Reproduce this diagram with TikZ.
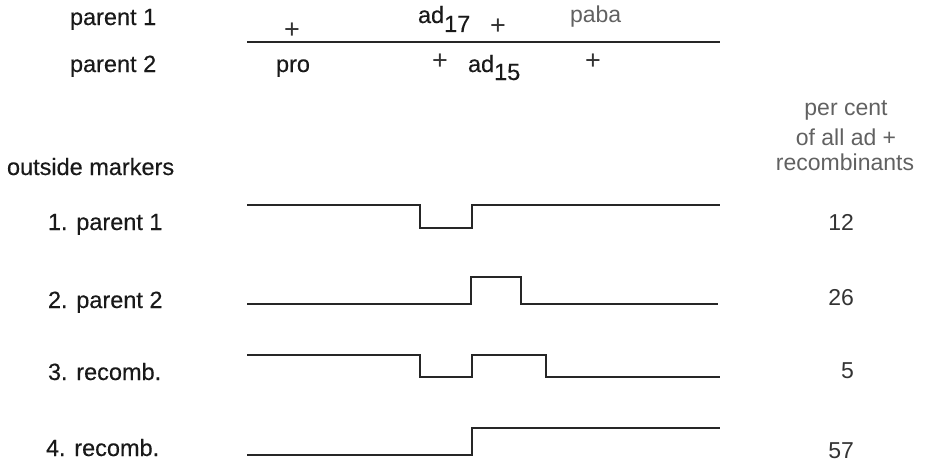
\documentclass[tikz,border=0pt]{standalone}
\usepackage{fontspec}
\setmainfont{Liberation Sans}[BoldFont={Liberation Sans},BoldFeatures={FakeBold=0.35}]
\begin{document}
\begin{tikzpicture}[x=1pt,y=-1pt,
  lbl/.style={inner sep=0pt,outer sep=0pt,text=black!90,font=\fontsize{23.5}{27}\selectfont\bfseries},
  glbl/.style={inner sep=0pt,outer sep=0pt,text=black!62,font=\fontsize{23}{27}\selectfont},
  pl/.style={inner sep=0pt,outer sep=0pt,text=black!80,font=\fontsize{27}{28}\selectfont},
  chrom/.style={line width=1.4pt,draw=black!85,line join=miter}]
\useasboundingbox (0,0) rectangle (932,463);
% top: parents
\node[lbl,anchor=base west] (p1) at (70,25) {parent 1};
\node[lbl,anchor=base west] (p2) at (70,72) {parent 2};
\coordinate (l0) at (247,42);
\coordinate (l1) at (720,42);
\draw[line width=1.4pt,draw=black!85] (l0) -- (l1);
\node[pl] (plusA) at (292,31) {+};
\node[lbl,anchor=base west] (ad17) at (418,23) {ad\raisebox{-9pt}{17}};
\node[pl] (plusB) at (498,27) {+};
\node[glbl,anchor=base west] (paba) at (570,23) {paba};
\node[lbl,anchor=base west] (pro) at (276,72) {pro};
\node[pl] (plusC) at (440,62) {+};
\node[lbl,anchor=base west] (ad15) at (468,72) {ad\raisebox{-8pt}{15}};
\node[pl] (plusD) at (593,62) {+};
% headings
\node[lbl,anchor=base west] (om) at (7,175) {outside markers};
\node[glbl,anchor=base] (pc1) at (846,115) {per cent};
\node[glbl,anchor=base] (pc2) at (846,145) {of all ad +};
\node[glbl,anchor=base] (pc3) at (845,170) {recombinants};
% row labels
\node[lbl,anchor=base west] (r1) at (48,230) {1. parent 1};
\node[lbl,anchor=base west] (r2) at (48,308) {2. parent 2};
\node[lbl,anchor=base west] (r3) at (48,380) {3. recomb.};
\node[lbl,anchor=base west] (r4) at (46,456) {4. recomb.};
% percentages
\node[glbl,text=black!80,anchor=base east] (n1) at (854,230) {12};
\node[glbl,text=black!80,anchor=base east] (n2) at (854,305) {26};
\node[glbl,text=black!80,anchor=base east] (n3) at (854,378) {5};
\node[glbl,text=black!80,anchor=base east] (n4) at (854,458) {57};
% chromosome traces
\draw[chrom] (247,205) -- (420,205) -- (420,228) -- (472,228) -- (472,205) -- (720,205);
\draw[chrom] (247,304) -- (471,304) -- (471,277) -- (521,277) -- (521,304) -- (718,304);
\draw[chrom] (247,355) -- (420,355) -- (420,377) -- (472,377) -- (472,355) -- (546,355) -- (546,377) -- (720,377);
\draw[chrom] (247,455) -- (472,455) -- (472,428) -- (720,428);
\end{tikzpicture}
\end{document}
